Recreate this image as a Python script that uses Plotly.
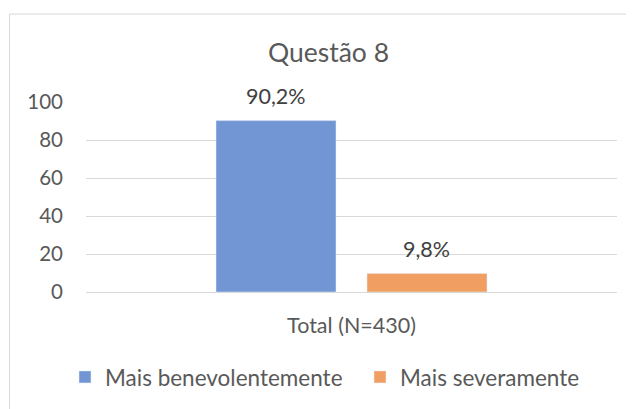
import plotly.graph_objects as go

categories = ["Total (N=430)"]
series_names = ["Mais benevolentemente", "Mais severamente"]
benevolent = [90.2]
severe = [9.8]
y_ticks = [0, 20, 40, 60, 80, 100]

colors = ["#7296D4", "#F19E63"]
font_family = "Lato, Carlito, 'Open Sans', sans-serif"
gray = "#595959"

def fmt(v):
    return f"{v:.1f}".replace(".", ",") + "%"

# page body has an 8px margin, so figure coordinates are offset by 8px
L, T, PW, PH = 78, 93.7, 531, 191
W, H = 626, 401

fig = go.Figure()
legend_widths = [250, None]
for name, vals, col, lw in zip(series_names, [benevolent, severe], colors, legend_widths):
    fig.add_trace(go.Bar(x=categories, y=vals, name=name, marker_color=col,
                         legendwidth=lw))

bargap, bargroupgap = 0.4313, 0.2053
slot = PW * (1 - bargap) / 2
annotations = []
for i, vals in enumerate([benevolent, severe]):
    for c, v in zip(categories, vals):
        annotations.append(dict(
            x=c, y=v, xref="x", yref="y", text=fmt(v), showarrow=False,
            xshift=(i - 0.5) * slot, yshift=24.5, yanchor="middle",
            font=dict(size=21.5, color="#404040", family=font_family)))

fig.update_layout(
    width=W, height=H,
    margin=dict(l=L, r=W - L - PW, t=T, b=H - T - PH),
    paper_bgcolor="white", plot_bgcolor="white",
    barmode="group", bargap=bargap, bargroupgap=bargroupgap,
    font=dict(family=font_family, color=gray, size=20),
    title=dict(text="Questão 8", x=320.5 / W, xanchor="center", xref="container",
               y=1 - 44.5 / H, yanchor="middle", yref="container",
               font=dict(size=26.5, color=gray, family=font_family)),
    showlegend=True,
    legend=dict(orientation="h", x=(57 - L) / PW, xanchor="left",
                y=(T + PH - 369) / PH, yanchor="middle",
                font=dict(size=22.5, color=gray, family=font_family),
                traceorder="normal", bgcolor="rgba(0,0,0,0)"),
    xaxis=dict(showgrid=False, showline=False, ticks="", ticklabelstandoff=18,
               tickfont=dict(size=21.5, color=gray)),
    yaxis=dict(range=[0, 100], tickvals=y_ticks, showgrid=True, gridcolor="#D9D9D9",
               gridwidth=1, zeroline=True, zerolinecolor="#D9D9D9", zerolinewidth=1,
               showline=False, ticks="", ticklabelstandoff=22,
               tickfont=dict(size=20.5, color=gray)),
    annotations=annotations,
    shapes=[dict(type="rect", xref="paper", yref="paper",
                 x0=(1.5 - L) / PW, x1=(700 - L) / PW,
                 y0=(T + PH - 500) / PH, y1=(T + PH - 5.3) / PH,
                 line=dict(color="#D9D9D9", width=1), layer="below")],
)

fig.write_html("out.html")
